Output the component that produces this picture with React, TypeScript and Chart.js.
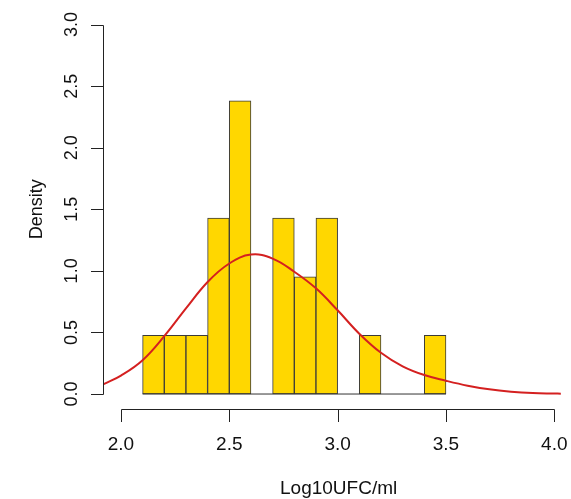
import React, { useEffect, useRef } from "react";
import { Chart, registerables } from "chart.js";

Chart.register(...registerables);

// Histogram bins (left edges) and density heights
const binStarts = [2.1, 2.2, 2.3, 2.4, 2.5, 2.6, 2.7, 2.8, 2.9, 3.0, 3.1, 3.2, 3.3, 3.4];
const binWidth = 0.1;
const densities = [0.476, 0.476, 0.476, 1.429, 2.381, 0, 1.429, 0.952, 1.429, 0, 0.476, 0, 0, 0.476];

// Density curve
const curveX = [1.92, 2.0, 2.1, 2.2, 2.3, 2.4, 2.5, 2.6, 2.7, 2.8, 2.9, 3.0, 3.1, 3.2, 3.3, 3.4, 3.5, 3.6, 3.7, 3.8, 3.9, 4.0, 4.03];
const curveY = [0.08, 0.15, 0.275, 0.47, 0.695, 0.91, 1.06, 1.132, 1.1, 0.993, 0.858, 0.68, 0.49, 0.335, 0.225, 0.154, 0.108, 0.068, 0.038, 0.019, 0.008, 0.004, 0.003];

// Axes
const xTicks = [2.0, 2.5, 3.0, 3.5, 4.0];
const yTicks = [0, 0.5, 1.0, 1.5, 2.0, 2.5, 3.0];
const xTitle = "Log10UFC/ml";
const yTitle = "Density";

const FONT_H = '19px "Liberation Sans", Arial, sans-serif';
const FONT_V = '18px "Liberation Sans", Arial, sans-serif';

const rAxesPlugin = {
  id: "rAxes",
  afterDraw(chart: any) {
    const ctx = chart.ctx;
    const xs = chart.scales.x;
    const ys = chart.scales.y;
    const area = chart.chartArea;
    ctx.save();
    ctx.strokeStyle = "#222";
    ctx.fillStyle = "#111";
    ctx.lineWidth = 1;
    ctx.font = FONT_V;

    // Y axis (R style, spans first to last tick)
    const ax = Math.floor(area.left) + 0.5;
    const yTop = ys.getPixelForValue(yTicks[yTicks.length - 1]);
    const yBot = ys.getPixelForValue(yTicks[0]);
    ctx.beginPath();
    ctx.moveTo(ax, Math.round(yTop) + 0.5);
    ctx.lineTo(ax, Math.round(yBot) + 0.5);
    for (const t of yTicks) {
      const py = Math.round(ys.getPixelForValue(t)) + 0.5;
      ctx.moveTo(ax, py);
      ctx.lineTo(ax - 12.5, py);
    }
    ctx.stroke();
    ctx.textAlign = "center";
    ctx.textBaseline = "alphabetic";
    for (const t of yTicks) {
      const py = ys.getPixelForValue(t);
      ctx.save();
      ctx.translate(77, py);
      ctx.rotate(-Math.PI / 2);
      ctx.fillText(t.toFixed(1), 0, 0);
      ctx.restore();
    }
    ctx.save();
    ctx.translate(42, (yTop + yBot) / 2);
    ctx.rotate(-Math.PI / 2);
    ctx.fillText(yTitle, 0, 0);
    ctx.restore();

    // X axis
    ctx.font = FONT_H;
    const ay = Math.round(area.bottom) + 0.5;
    const xL = xs.getPixelForValue(xTicks[0]);
    const xR = xs.getPixelForValue(xTicks[xTicks.length - 1]);
    ctx.beginPath();
    ctx.moveTo(Math.round(xL) + 0.5, ay);
    ctx.lineTo(Math.round(xR) + 0.5, ay);
    for (const t of xTicks) {
      const px = Math.round(xs.getPixelForValue(t)) + 0.5;
      ctx.moveTo(px, ay);
      ctx.lineTo(px, ay + 12.5);
    }
    ctx.stroke();
    for (const t of xTicks) {
      ctx.fillText(t.toFixed(1), xs.getPixelForValue(t), 450);
    }
    ctx.fillText(xTitle, (xL + xR) / 2 + 1, 494);
    ctx.restore();
  },
};

export default function App() {
  const canvasRef = useRef<HTMLCanvasElement | null>(null);

  useEffect(() => {
    if (!canvasRef.current) return;
    const barData = binStarts.map((s, i) => ({ x: s + binWidth / 2, y: densities[i] }));
    const curveData = curveX.map((x, i) => ({ x, y: curveY[i] }));
    const baseData = [
      { x: binStarts[0], y: 0 },
      { x: binStarts[binStarts.length - 1] + binWidth, y: 0 },
    ];
    const chart = new Chart(canvasRef.current, {
      type: "bar",
      data: {
        datasets: [
          {
            type: "line",
            data: curveData,
            borderColor: "#d42020",
            borderWidth: 2,
            pointRadius: 0,
            tension: 0.4,
            fill: false,
            order: 0,
          } as any,
          {
            type: "line",
            data: baseData,
            borderColor: "#333",
            borderWidth: 1,
            pointRadius: 0,
            fill: false,
            order: 1,
          } as any,
          {
            type: "bar",
            data: barData,
            backgroundColor: "#FFD700",
            borderColor: "#3a3a3a",
            borderWidth: 1,
            borderSkipped: false,
            barPercentage: 1,
            categoryPercentage: 1,
            order: 2,
          } as any,
        ],
      },
      options: {
        animation: false,
        responsive: true,
        maintainAspectRatio: false,
        layout: { padding: { left: 103.6, top: 9.8, right: 0, bottom: 90.2 } },
        plugins: { legend: { display: false }, tooltip: { enabled: false } },
        scales: {
          x: { type: "linear", min: 1.92, max: 4.077, offset: false, display: false },
          y: { type: "linear", min: -0.12, max: 3.12, display: false },
        },
      },
      plugins: [rAxesPlugin],
    });
    return () => chart.destroy();
  }, []);

  return (
    <div style={{ position: "fixed", left: 0, top: 0, width: 571, height: 499, background: "#fff" }}>
      <canvas ref={canvasRef} />
    </div>
  );
}
